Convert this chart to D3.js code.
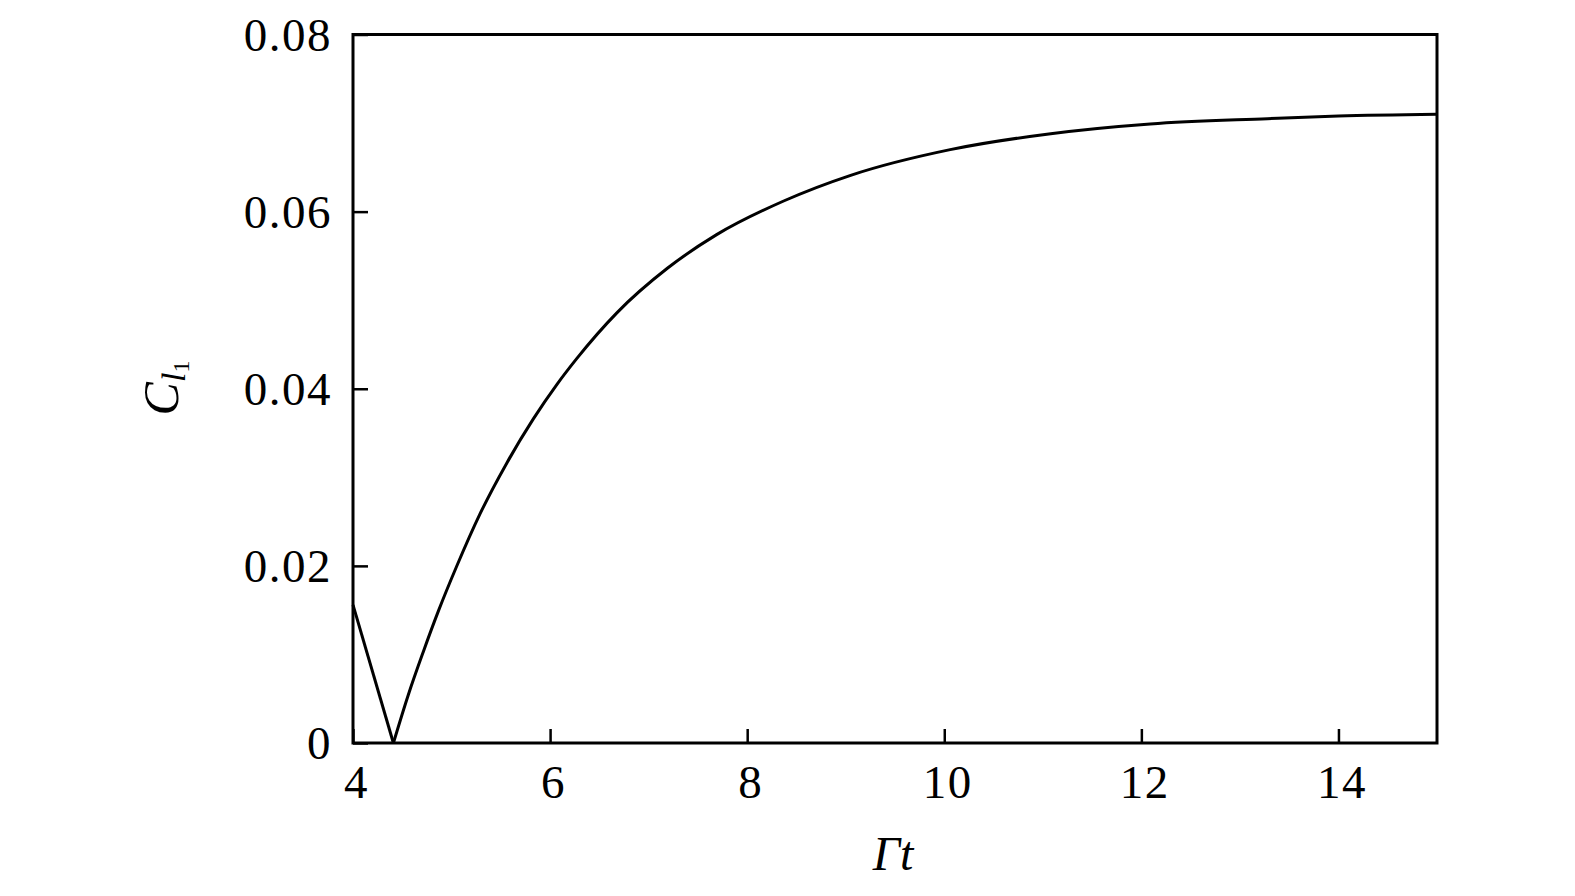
<!DOCTYPE html>
<html>
<head>
<meta charset="utf-8">
<script src="https://cdn.jsdelivr.net/npm/d3@7"></script>
<style>
  html, body { margin: 0; padding: 0; background: #fff; }
  svg { display: block; }
</style>
</head>
<body>
<svg id="chart" width="1575" height="896"></svg>
<script>
// ---- data ----
const gammaT = [4.0, 4.41, 4.56, 4.71, 4.87, 5.05, 5.29, 5.56, 5.83, 6.07, 6.27, 6.68, 7.19, 7.69, 8.37, 9.05, 10.06, 11.08, 12.09, 13.28, 14.0, 15.0];
const cl1    = [0.0156, 0.0, 0.0054, 0.0102, 0.0150, 0.0199, 0.0259, 0.0316, 0.0366, 0.0405, 0.0434, 0.0486, 0.0536, 0.0574, 0.0612, 0.0641, 0.0670, 0.0688, 0.0699, 0.0705, 0.0708, 0.0710];
const xTicks = [4, 6, 8, 10, 12, 14];
const yTicks = [0, 0.02, 0.04, 0.06, 0.08];
const yTickLabels = ["0", "0.02", "0.04", "0.06", "0.08"];
const xDomain = [4, 15];
const yDomain = [0, 0.08];

// ---- layout ----
const L = 353, R = 1437, T = 34.5, B = 743;
const svg = d3.select("#chart");
const x = d3.scaleLinear().domain(xDomain).range([L, R]);
const y = d3.scaleLinear().domain(yDomain).range([B, T]);
const font = "'Liberation Serif', 'Times New Roman', serif";

// axes
const xAxis = d3.axisBottom(x).tickValues(xTicks).tickFormat(d3.format("d"))
  .tickSizeInner(-14).tickSizeOuter(0).tickPadding(21.5);
const yAxis = d3.axisLeft(y).tickValues(yTicks).tickFormat((d, i) => yTickLabels[i])
  .tickSizeInner(-15).tickSizeOuter(0).tickPadding(21);

const gx = svg.append("g").attr("transform", `translate(0,${B})`).call(xAxis);
const gy = svg.append("g").attr("transform", `translate(${L},0)`).call(yAxis);
[gx, gy].forEach(g => {
  g.select(".domain").remove();
  g.selectAll(".tick line").attr("stroke", "#000").attr("stroke-width", 2.5);
  g.selectAll(".tick text").attr("fill", "#000").style("font-family", font)
    .style("font-size", "47px").style("letter-spacing", "1.5px");
});
gx.selectAll(".tick text").attr("dx", 3);
gy.selectAll(".tick text").attr("dy", "0.34em");

// frame
svg.append("rect").attr("x", L).attr("y", T).attr("width", R - L).attr("height", B - T)
  .attr("fill", "none").attr("stroke", "#000").attr("stroke-width", 3);

// curve: linear descent to the cusp, smooth rise afterwards
const pts = gammaT.map((t, i) => [t, cl1[i]]);
const iMin = d3.minIndex(cl1);
const lineLin = d3.line().x(d => x(d[0])).y(d => y(d[1])).curve(d3.curveLinear);
const lineSmooth = d3.line().x(d => x(d[0])).y(d => y(d[1])).curve(d3.curveMonotoneX);
svg.append("path").attr("d", lineLin(pts.slice(0, iMin + 1)))
  .attr("fill", "none").attr("stroke", "#000").attr("stroke-width", 3);
svg.append("path").attr("d", lineSmooth(pts.slice(iMin)))
  .attr("fill", "none").attr("stroke", "#000").attr("stroke-width", 3);

// x label: Γt
svg.append("text").attr("x", (L + R) / 2 - 2).attr("y", 870)
  .attr("text-anchor", "middle").style("font-family", font).style("font-style", "italic")
  .style("font-size", "48px").attr("fill", "#000").text("Γt");

// y label: C_{l_1}
const yl = svg.append("text").attr("transform", `translate(178,388) rotate(-90)`)
  .attr("text-anchor", "middle").style("font-family", font).attr("fill", "#000");
yl.append("tspan").style("font-style", "italic").style("font-size", "50px").text("C");
yl.append("tspan").style("font-style", "italic").style("font-size", "34px").attr("dy", 7).text("l");
yl.append("tspan").style("font-size", "24px").attr("dy", 4).text("1");
</script>
</body>
</html>
